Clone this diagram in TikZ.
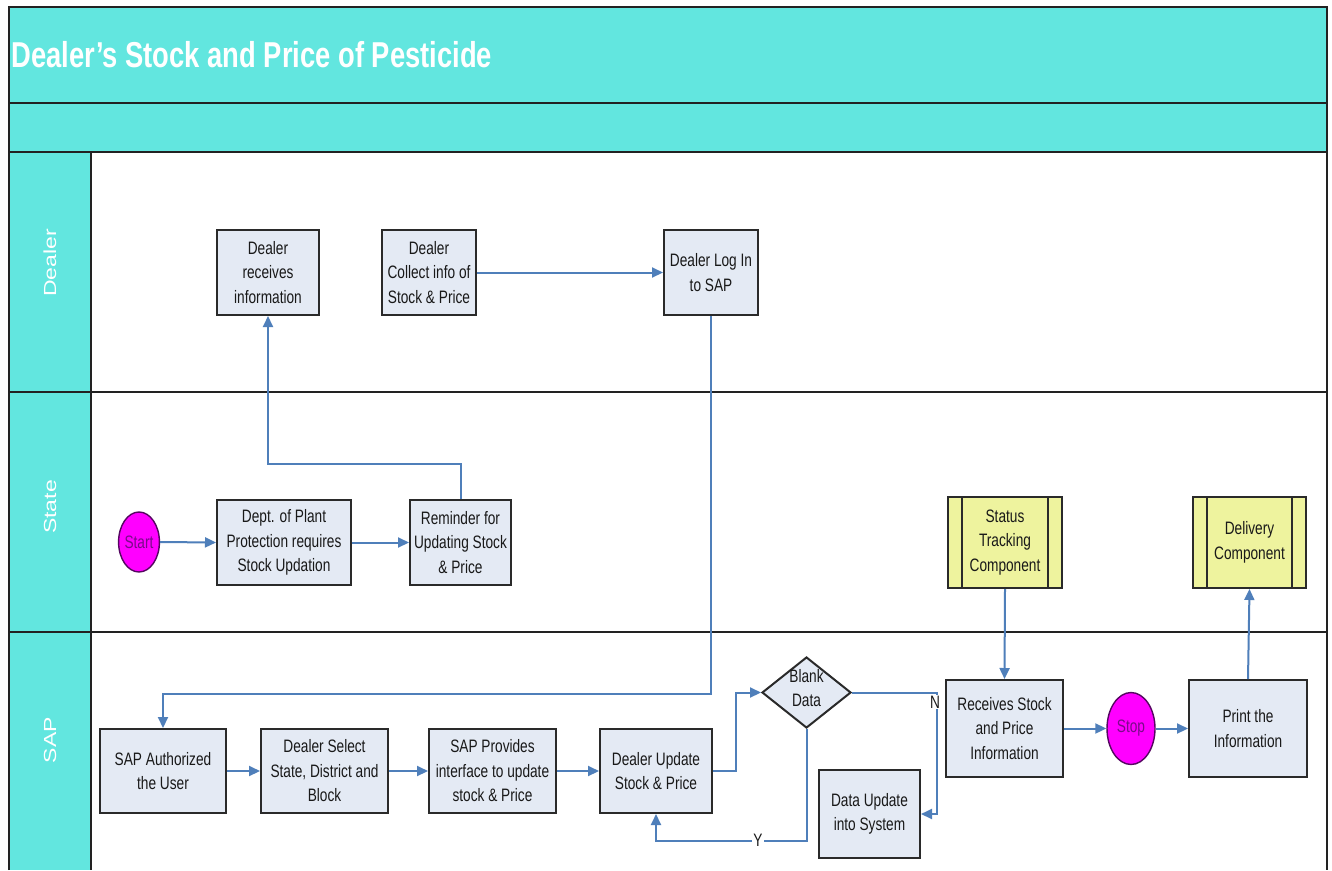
\documentclass[tikz,border=0pt]{standalone}
\usepackage{fontspec}
\setmainfont{Liberation Sans}[FakeStretch=0.76]
\newfontfamily\lanefont{Liberation Sans}
\usetikzlibrary{arrows.meta,shapes.geometric}
\definecolor{band}{HTML}{62E6DF}
\definecolor{boxfill}{HTML}{E4EAF4}
\definecolor{boxline}{HTML}{2A2A2A}
\definecolor{conncol}{HTML}{4F7FBA}
\definecolor{compfill}{HTML}{EEF39E}
\definecolor{termfill}{HTML}{FF00FF}
\definecolor{termtext}{HTML}{7A0A8A}
\definecolor{lanerule}{HTML}{222222}
\tikzset{
  every node/.style={font=\fontsize{18}{24.5}\selectfont, text=black!90},
  procbox/.style={draw=boxline, fill=boxfill, line width=2pt, align=center, inner sep=0pt},
  compbox/.style={draw=boxline, fill=compfill, line width=2pt, align=center, inner sep=0pt},
  term/.style={ellipse, draw=termtext!70!black, fill=termfill, line width=1.4pt, inner sep=0pt, text=termtext},
  decision/.style={diamond, draw=boxline, fill=boxfill, line width=2pt, inner sep=0pt},
  conn/.style={draw=conncol, line width=2pt, -{Triangle[length=11pt,width=10pt]}},
  lanelabel/.style={rotate=90, text=white},
  edgelabel/.style={fill=white, inner sep=1pt},
}
\begin{document}
\begin{tikzpicture}[x=1pt,y=-1pt]
\useasboundingbox (0,0) rectangle (1332,870);
\fill[white] (0,0) rectangle (1332,870);
% bands
\fill[band] (9,7) rectangle (1327,152);
\fill[band] (9,152) rectangle (91,870);
\draw[lanerule, line width=2pt] (9,870) -- (9,7) -- (1327,7) -- (1327,870);
\draw[lanerule, line width=2pt] (9,103) -- (1327,103);
\draw[lanerule, line width=2pt] (9,152) -- (1327,152);
\draw[lanerule, line width=2pt] (9,392) -- (1327,392);
\draw[lanerule, line width=2pt] (9,632) -- (1327,632);
\draw[lanerule, line width=1.5pt] (91,152) -- (91,870);
\node[anchor=west, text=white, font=\fontsize{36}{40}\selectfont\bfseries] (title) at (8,55) {Dealer’s Stock and Price of Pesticide};
\node[lanelabel] (ldealer) at (50,263) {\scalebox{1}[0.76]{\lanefont\fontsize{23}{23}\selectfont Dealer}};
\node[lanelabel] (lstate) at (50,507) {\scalebox{1}[0.76]{\lanefont\fontsize{23}{23}\selectfont State}};
\node[lanelabel] (lsap) at (50,740) {\scalebox{1}[0.76]{\lanefont\fontsize{23}{23}\selectfont SAP}};
% Dealer lane
\node[procbox, minimum width=102, minimum height=85] (recv) at (268,272.5) {Dealer\\receives\\information};
\node[procbox, minimum width=94, minimum height=85] (collect) at (429,272.5) {Dealer\\Collect info of\\Stock \& Price};
\node[procbox, minimum width=94, minimum height=85] (login) at (711,272.5) {Dealer Log In\\to SAP};
% State lane
\node[term, minimum width=38, minimum height=60] (start) at (139,542) {Start};
\node[procbox, minimum width=134, minimum height=85] (dept) at (284,542.5) {Dept. of Plant\\Protection requires\\Stock Updation};
\node[procbox, minimum width=101, minimum height=85] (remind) at (460.5,542.5) {Reminder for\\Updating Stock\\\& Price};
\node[compbox, minimum width=114, minimum height=91] (status) at (1005,542.5) {Status\\Tracking\\Component};
\node[compbox, minimum width=113, minimum height=91] (delivery) at (1249.5,542.5) {Delivery\\Component};
\draw[boxline, line width=1.5pt] ([xshift=15pt]status.north west) -- ([xshift=15pt]status.south west);
\draw[boxline, line width=1.5pt] ([xshift=-15pt]status.north east) -- ([xshift=-15pt]status.south east);
\draw[boxline, line width=1.5pt] ([xshift=15pt]delivery.north west) -- ([xshift=15pt]delivery.south west);
\draw[boxline, line width=1.5pt] ([xshift=-15pt]delivery.north east) -- ([xshift=-15pt]delivery.south east);
% SAP lane
\node[procbox, minimum width=126, minimum height=84] (auth) at (163,771) {SAP Authorized\\the User};
\node[procbox, minimum width=127, minimum height=84] (select) at (324.5,771) {Dealer Select\\State, District and\\Block};
\node[procbox, minimum width=127, minimum height=84] (provides) at (492.5,771) {SAP Provides\\interface to update\\stock \& Price};
\node[procbox, minimum width=112, minimum height=84] (update) at (656,771) {Dealer Update\\Stock \& Price};
\node[decision, minimum width=89, minimum height=71] (blank) at (806.5,692.5) {};
\node[align=center, inner sep=0pt] (blanktxt) at (806.5,688) {Blank\\Data};
\node[procbox, minimum width=101, minimum height=88] (data) at (869.5,814) {Data Update\\into System};
\node[procbox, minimum width=117, minimum height=97] (receives) at (1004.5,728.5) {Receives Stock\\and Price\\Information};
\node[term, minimum width=48, minimum height=72] (stop) at (1131,728.5) {Stop};
\node[procbox, minimum width=118, minimum height=97] (print) at (1248,728.5) {Print the\\Information};
% connectors
\draw[conn] (start.east) -- (dept.west);
\draw[conn] (dept.east) -- (remind.west);
\draw[conn] (remind.north) -- ++(0,-35) -| (recv.south);
\draw[conn] (collect.east) -- (login.west);
\draw[conn] (login.south) -- ++(0,378) -| (auth.north);
\draw[conn] (auth.east) -- (select.west);
\draw[conn] (select.east) -- (provides.west);
\draw[conn] (provides.east) -- (update.west);
\draw[conn] (update.east) -- ++(23,0) |- (blank.west);
\draw[conn] (blank.south) -- ++(0,112) -| (update.south);
\node[edgelabel] (ylab) at (758,840) {Y};
\draw[conn] (blank.east) -- ++(85,0) |- (data.east);
\node[edgelabel] (nlab) at (935,702) {N};
\draw[conn] (status.south) -- (receives.north);
\draw[conn] (receives.east) -- (stop.west);
\draw[conn] (stop.east) -- (print.west);
\draw[conn] (print.north) -- (delivery.south);
\end{tikzpicture}
\end{document}
